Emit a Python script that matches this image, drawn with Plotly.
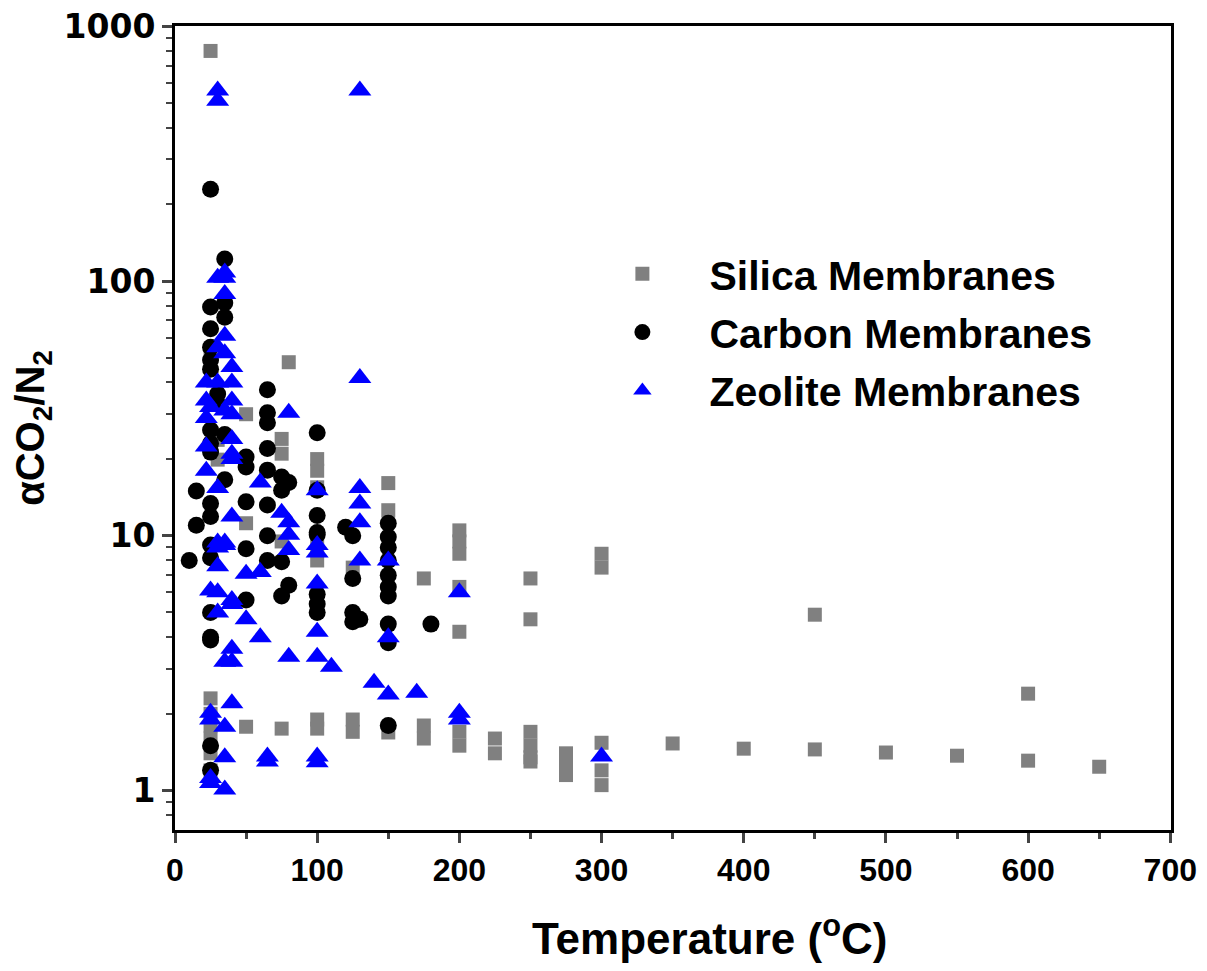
import plotly.graph_objects as go
import math

# ---- data ----
silica_T = [25, 25, 25, 25, 25, 25, 25, 25, 30, 30,
            50, 50, 50, 50, 75, 75, 75, 75, 80,
            100, 100, 100, 100, 100, 100, 100,
            125, 125, 125, 150, 150, 150, 175, 175, 175,
            200, 200, 200, 200, 200, 200, 200,
            225, 225, 250, 250, 250, 250, 250, 250,
            275, 275, 275, 300, 300, 300, 300, 300,
            350, 400, 450, 450, 500, 550, 600, 600, 650]
silica_sel = [800, 52, 2.3, 2.0, 1.8, 1.6, 1.4, 1.2, 23.8, 19.9,
              30, 19.4, 11.2, 1.78, 24, 21, 9.5, 1.75, 48,
              20, 18, 15.5, 9.2, 8.0, 1.9, 1.75,
              7.5, 1.9, 1.7, 16.1, 12.6, 1.69, 6.8, 1.8, 1.6,
              10.5, 9.5, 8.5, 6.3, 4.2, 1.7, 1.5,
              1.6, 1.4, 6.8, 4.7, 1.7, 1.5, 1.35, 1.3,
              1.4, 1.25, 1.15, 8.5, 7.5, 1.54, 1.2, 1.05,
              1.53, 1.46, 4.9, 1.45, 1.41, 1.37, 2.4, 1.31, 1.24]

carbon_T = [10, 15, 15, 25, 25, 25, 25, 25, 25, 25, 25, 25, 25, 25, 25, 25,
            25, 25, 25, 25, 25, 30, 30, 35, 35, 35, 35, 35,
            50, 50, 50, 50, 50, 65, 65, 65, 65, 65, 65, 65, 65,
            75, 75, 75, 75, 80, 80,
            100, 100, 100, 100, 100, 100, 100, 100,
            120, 125, 125, 125, 130, 125,
            150, 150, 150, 150, 150, 150, 150, 150, 150, 150, 180]
carbon_sel = [8.0, 11.0, 15.0, 229, 79, 65, 55, 49, 45, 26, 23, 21.3, 13.4, 11.9, 9.2, 8.2,
              5.0, 4.0, 3.9, 1.5, 1.2, 36, 33, 122, 82, 72, 25, 16.6,
              20.4, 18.6, 13.6, 8.9, 5.6, 37.4, 30.4, 27.8, 22, 18.1, 13.2, 10, 8.0,
              17, 15.1, 7.9, 5.8, 16.2, 6.4,
              25.4, 15.1, 12, 10.3, 10.1, 5.9, 5.4, 5.0,
              10.8, 10.0, 6.8, 5.0, 4.7, 4.6,
              11.2, 9.9, 9.0, 8.0, 7.0, 6.3, 5.8, 4.5, 3.8, 1.8, 4.5]

zeolite_T = [30, 30, 130, 30, 35, 35, 35, 35, 30, 35, 40, 22, 30, 40, 22, 40,
             25, 35, 22, 40, 40, 22, 40, 40, 22, 30, 40, 30, 35, 30, 35, 30,
             50, 60, 60, 80, 75, 80, 80, 80, 100, 100, 100, 100, 100, 100, 100, 100,
             130, 130, 130, 130, 130, 150, 150, 150, 200, 200, 200,
             25, 30, 40, 40, 30, 50, 60, 40, 40, 35, 80, 110, 140, 170,
             40, 25, 25, 35, 35, 65, 65, 25, 25, 35, 300]
zeolite_sel = [560, 510, 560, 103, 108, 103, 89, 61, 55, 52, 46, 40, 40, 40, 34, 34,
               32, 31, 29, 30, 24, 22.4, 21, 20, 18, 15.4, 11.9, 9.4, 9.4, 9.0, 9.2, 7.6,
               7.1, 7.2, 16.2, 30.4, 12.3, 11.3, 10.1, 8.8, 15.1, 9.2, 8.6, 6.5, 4.2, 3.35, 1.36, 1.29,
               41.6, 15.4, 13.4, 11.3, 8.0, 8.0, 4.0, 2.38, 6.0, 2.02, 1.9,
               6.1, 6.0, 5.6, 5.4, 5.0, 4.7, 4.0, 3.6, 3.2, 3.2, 3.35, 3.06, 2.65, 2.42,
               2.2, 2.02, 1.9, 1.78, 1.35, 1.36, 1.3, 1.12, 1.07, 1.01, 1.36]

x_ticks = [0, 100, 200, 300, 400, 500, 600, 700]
x_minor = [50, 150, 250, 350, 450, 550, 650]
y_ticks = [1, 10, 100, 1000]
y_minor = [0.8, 0.9, 2, 3, 4, 5, 6, 7, 8, 9, 20, 30, 40, 50, 60, 70, 80, 90,
           200, 300, 400, 500, 600, 700, 800, 900]

fig = go.Figure()
fig.add_trace(go.Scatter(x=silica_T, y=silica_sel, mode="markers", name="Silica Membranes",
                         legendgroup="a",
                         marker=dict(symbol="square", size=14, color="#808080")))
fig.add_trace(go.Scatter(x=carbon_T, y=carbon_sel, mode="markers", name="Carbon Membranes",
                         legendgroup="b",
                         marker=dict(symbol="circle", size=17, color="#000000")))
fig.add_trace(go.Scatter(x=zeolite_T, y=zeolite_sel, mode="markers", name="Zeolite Membranes",
                         legendgroup="c",
                         marker=dict(symbol="triangle-up", size=20, color="#0000FF")))

fig.update_layout(
    width=1207, height=971,
    margin=dict(l=167, r=44, t=18, b=149, autoexpand=False),
    paper_bgcolor="white", plot_bgcolor="white",
    showlegend=True,
    legend=dict(x=0.402, y=0.733, xanchor="left", yanchor="top",
                font=dict(family="Liberation Sans", size=41, color="black", weight="bold"),
                bgcolor="rgba(0,0,0,0)", tracegroupgap=2, itemwidth=124,
                traceorder="grouped"),
    font=dict(family="Liberation Sans", color="black"),
    annotations=[dict(text="Temperature (<sup>o</sup>C)", xref="paper", yref="paper",
                      x=0.537, y=-0.131, xanchor="center", yanchor="middle",
                      showarrow=False,
                      font=dict(family="Liberation Sans", size=44, weight="bold", color="black"))],
)
fig.update_xaxes(
    range=[0, 700.5], tickvals=x_ticks, ticks="outside", ticklen=10, tickwidth=3,
    showline=True, linewidth=3, linecolor="black", mirror=True, showgrid=False, zeroline=False,
    automargin=False, ticklabeloverflow="allow",
    minor=dict(ticks="outside", ticklen=6, tickwidth=3, tickvals=x_minor, showgrid=False),
    tickfont=dict(family="Liberation Sans", size=32, weight="bold"),
)
fig.update_yaxes(
    type="log", range=[math.log10(0.7), 3.001], tickvals=y_ticks, ticktext=[str(v) for v in y_ticks],
    ticks="outside", ticklen=10, tickwidth=3,
    showline=True, linewidth=3, linecolor="black", mirror=True, showgrid=False, zeroline=False,
    automargin=False, ticklabeloverflow="allow",
    minor=dict(ticks="outside", ticklen=6, tickwidth=2, tickvals=y_minor, showgrid=False),
    tickfont=dict(family="DejaVu Sans", size=33, weight="bold"),
    title=dict(text="αCO<sub>2</sub>/N<sub>2</sub>", standoff=14,
               font=dict(family="Liberation Sans", size=40, weight="bold")),
)

fig.write_html("out.html")
